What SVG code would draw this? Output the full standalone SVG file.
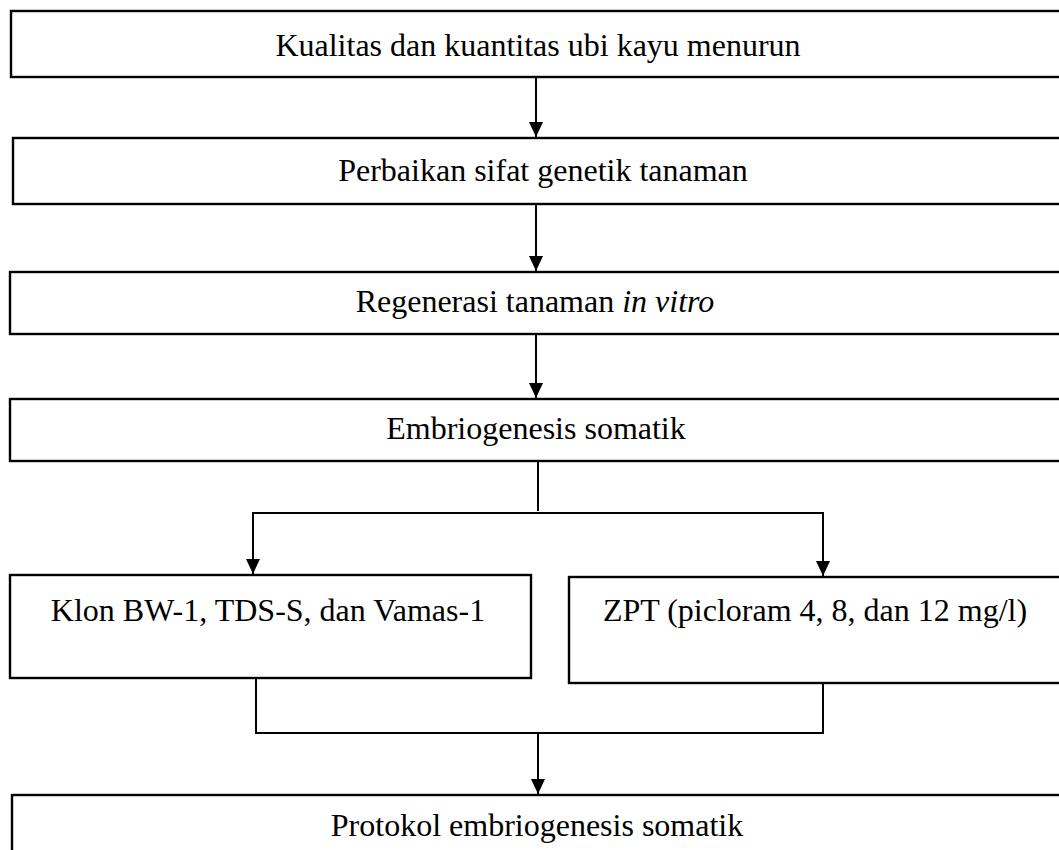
<svg xmlns="http://www.w3.org/2000/svg" width="1059" height="850" viewBox="0 0 1059 850">
<style>
.box{fill:#fff;stroke:#000;stroke-width:2.4}
.t{font-family:"Liberation Serif","Times New Roman",serif;font-size:32px;fill:#000;text-anchor:middle}
.c{fill:none;stroke:#000;stroke-width:2}
</style>
<defs>
<marker id="ah" markerUnits="userSpaceOnUse" markerWidth="16" markerHeight="14" refX="15" refY="7" orient="auto">
<path d="M0,0 L15,7 L0,14 Z" fill="#000"/>
</marker>
</defs>
<rect width="1059" height="850" fill="#fff"/>
<g id="n1"><rect class="box" x="11" y="11" width="1060" height="66"/><text class="t" x="538" y="56">Kualitas dan kuantitas ubi kayu menurun</text></g>
<g id="n2"><rect class="box" x="13" y="138" width="1060" height="66"/><text class="t" x="543" y="181">Perbaikan sifat genetik tanaman</text></g>
<g id="n3"><rect class="box" x="10" y="272" width="1060" height="62"/><text class="t" x="535" y="312">Regenerasi tanaman <tspan font-style="italic">in vitro</tspan></text></g>
<g id="n4"><rect class="box" x="10" y="399" width="1060" height="62"/><text class="t" x="536" y="439">Embriogenesis somatik</text></g>
<g id="n5"><rect class="box" x="10" y="575" width="521" height="103"/><text class="t" x="268" y="621">Klon BW-1, TDS-S, dan Vamas-1</text></g>
<g id="n6"><rect class="box" x="569" y="577" width="500" height="106"/><text class="t" x="815" y="621">ZPT (picloram 4, 8, dan 12 mg/l)</text></g>
<g id="n7"><rect class="box" x="12" y="795" width="1060" height="80"/><text class="t" x="537" y="836">Protokol embriogenesis somatik</text></g>
<g id="connectors">
<line class="c" x1="536" y1="78" x2="536" y2="137" marker-end="url(#ah)"/>
<line class="c" x1="536" y1="205" x2="536" y2="271" marker-end="url(#ah)"/>
<line class="c" x1="536" y1="335" x2="536" y2="398" marker-end="url(#ah)"/>
<line class="c" x1="538" y1="462" x2="538" y2="511"/>
<polyline class="c" points="253,513 823,513 823,576" marker-end="url(#ah)"/>
<line class="c" x1="253" y1="512" x2="253" y2="574" marker-end="url(#ah)"/>
<polyline class="c" points="256,679 256,733 823,733 823,684"/>
<line class="c" x1="538" y1="733" x2="538" y2="794" marker-end="url(#ah)"/>
</g>
</svg>
